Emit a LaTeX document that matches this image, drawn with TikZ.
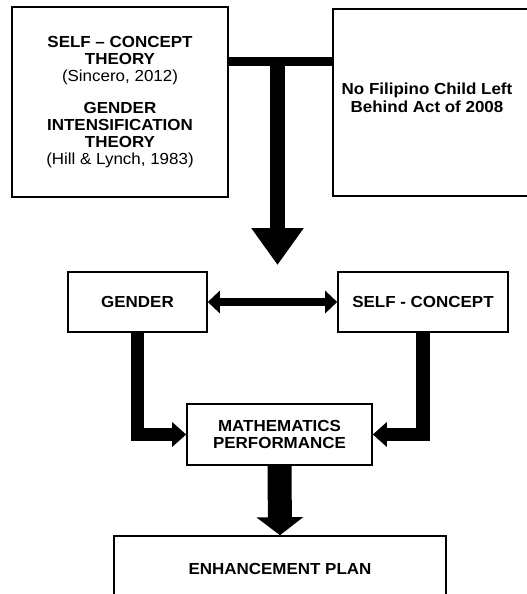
\documentclass[tikz,border=0pt]{standalone}
\usepackage{fontspec}
\setmainfont{Liberation Sans}[FakeStretch=1.06]
\usetikzlibrary{arrows.meta}
\tikzset{
  box/.style={draw, line width=1.6pt, rectangle, inner sep=0pt, align=center,
    font=\fontsize{16}{17}\selectfont\bfseries},
  lbl/.style={inner sep=0pt, align=center, font=\fontsize{16}{18}\selectfont\bfseries},
  pipe/.style={line width=#1},
}
\begin{document}
\begin{tikzpicture}[x=1pt,y=-1pt]
\clip (0,0) rectangle (527,594);
\fill[white] (0,0) rectangle (527,594);
% top boxes
\node[box, minimum width=216pt, minimum height=190pt] (tl) at (120,102)
  {SELF -- CONCEPT\\THEORY\\{\mdseries (Sincero, 2012)}\\[15pt]GENDER\\INTENSIFICATION\\THEORY\\{\mdseries (Hill \& Lynch, 1983)}};
\node[box, minimum width=212pt, minimum height=187pt] (tr) at (439,102.5) {};
\node[lbl] (trt) at (427,98) {No Filipino Child Left\\Behind Act of 2008};
% middle boxes
\node[box, minimum width=139pt, minimum height=60pt] (g) at (137.5,302) {GENDER};
\node[box, minimum width=170pt, minimum height=60pt] (sc) at (423,302) {SELF - CONCEPT};
\node[box, minimum width=185pt, minimum height=61pt] (m) at (279.5,434.5) {MATHEMATICS\\PERFORMANCE};
\node[box, minimum width=332pt, minimum height=66pt] (e) at (280,569) {ENHANCEMENT PLAN};
% T connector
\coordinate (j) at (277.5,61.5);
\coordinate (tip) at (277.5,265);
\draw[pipe=9pt] (tl.east |- j) -- (tr.west |- j);
\draw[pipe=15pt, -{Triangle[width=50pt,length=37pt]}] (j) -- (tip);
% double arrow
\draw[pipe=8pt, {Triangle[width=22pt,length=12pt]}-{Triangle[width=22pt,length=12pt]}] (g.east) -- (sc.west);
% elbows
\draw[pipe=13.5pt, -{Triangle[width=24pt,length=14pt]}] (g.south) |- (m.west);
\draw[pipe=13.5pt, -{Triangle[width=24pt,length=14pt]}] (sc.south) |- (m.east);
% down
\draw[pipe=24pt, -{Triangle[width=46pt,length=18pt]}] (m.south) -- (e.north);
\end{tikzpicture}
\end{document}
